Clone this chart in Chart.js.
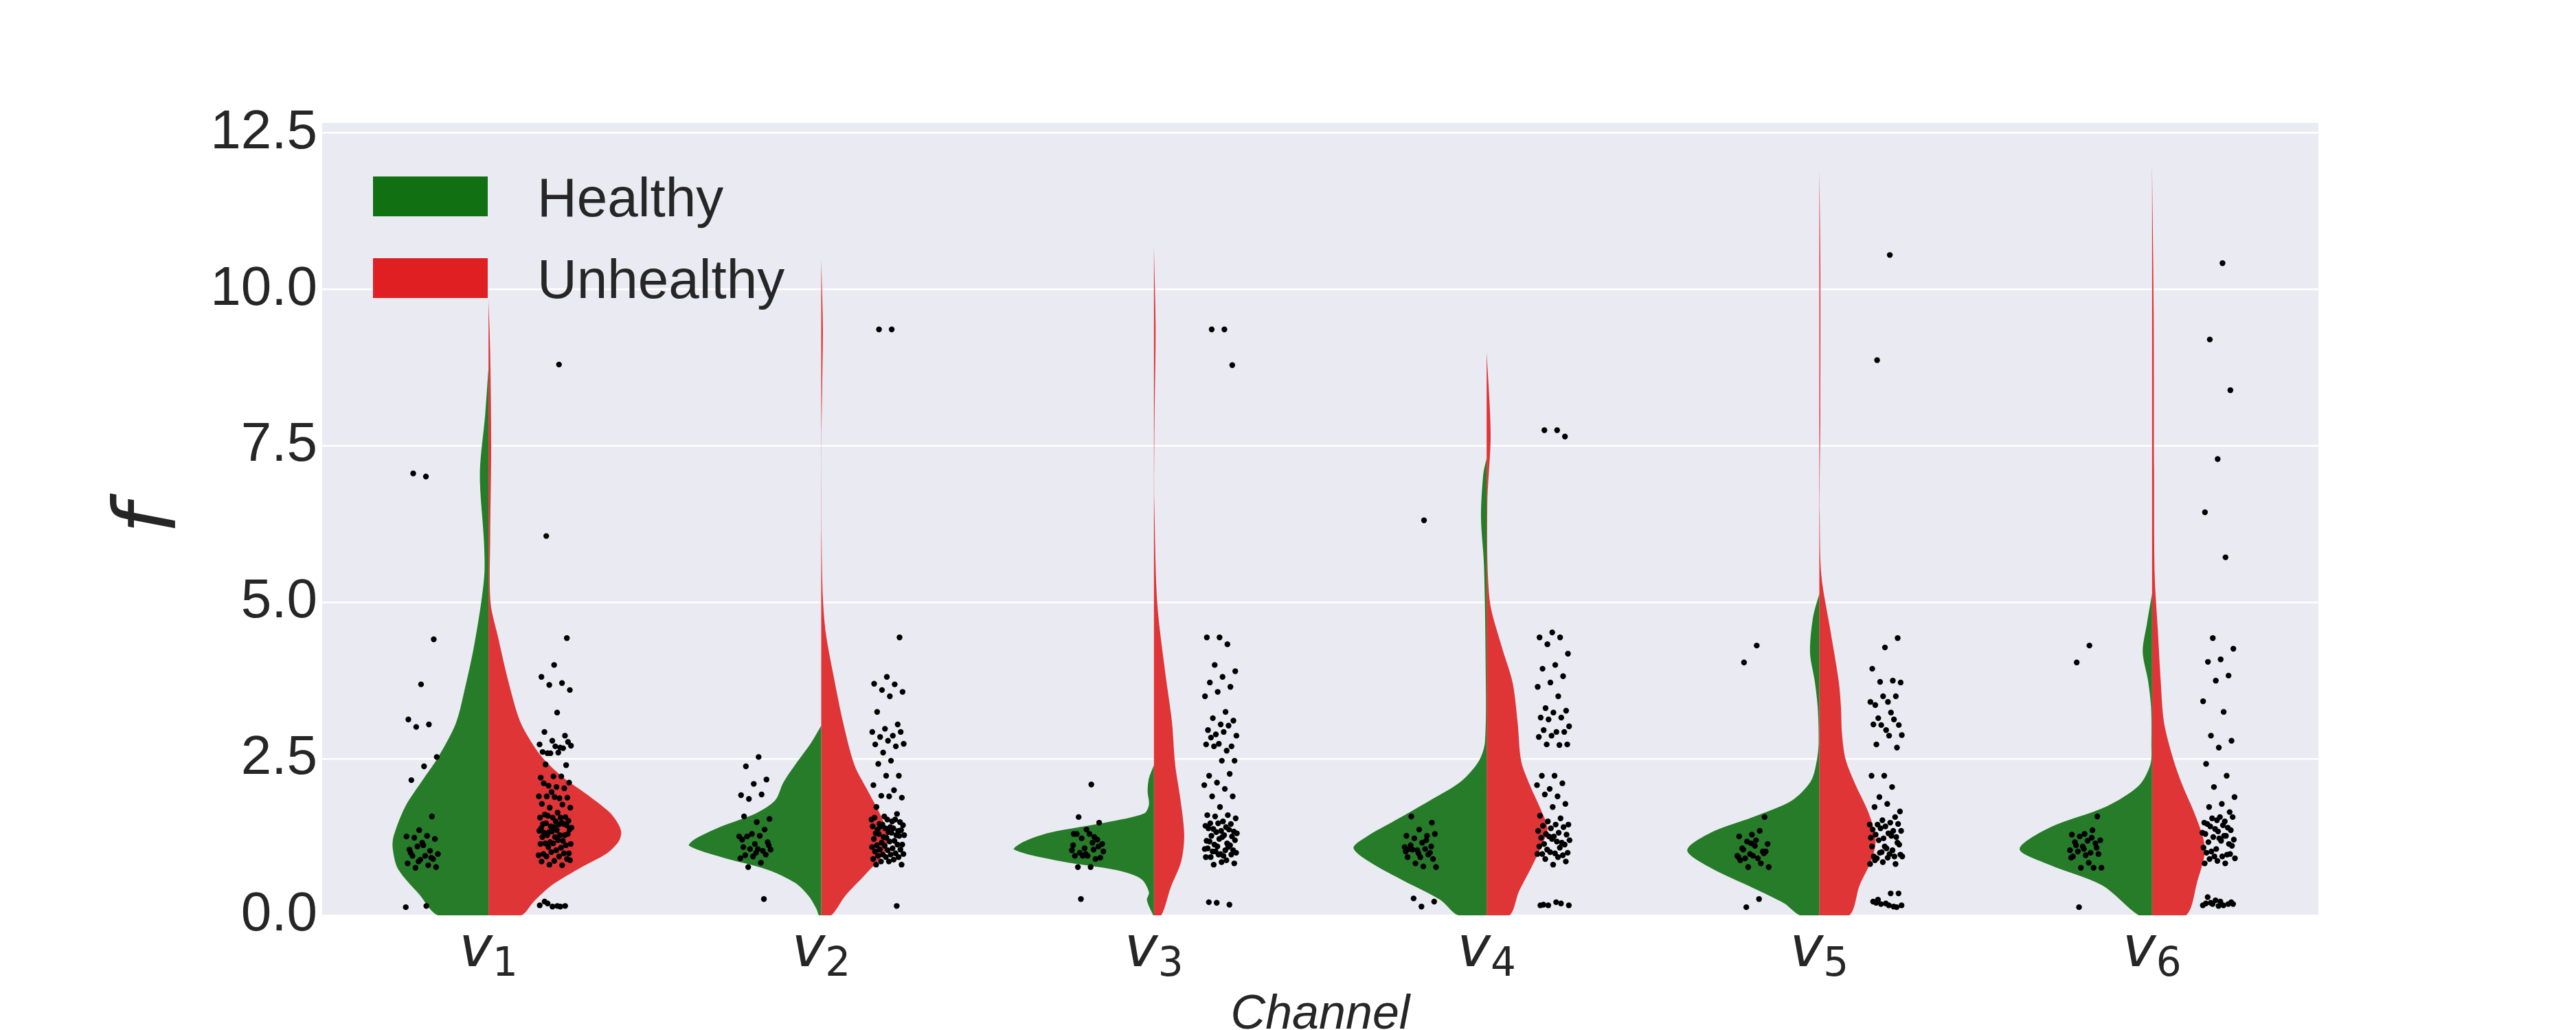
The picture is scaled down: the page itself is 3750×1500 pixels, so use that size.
<!DOCTYPE html>
<html>
<head>
<meta charset="utf-8">
<title>Healthy vs Unhealthy by channel</title>
<script src="https://cdn.jsdelivr.net/npm/chart.js@4.4.1/dist/chart.umd.min.js"></script>
<style>
  html, body { margin: 0; padding: 0; background: #ffffff; }
  #chart { display: block; }
</style>
</head>
<body>
<canvas id="chart" width="3750" height="1500"></canvas>
<script>
// categories and groups (mathtext-style names, "_" marks the subscript)
const channels = ["v_1", "v_2", "v_3", "v_4", "v_5", "v_6"];
const groups = ["Healthy", "Unhealthy"];
const yTicks = [0, 2.5, 5, 7.5, 10, 12.5];

// strip points (f values), one list per channel
const healthyValues = [
  [7.01, 7.06, 4.41, 3.69, 3.13, 3.05, 3.01, 2.53, 2.38, 2.16, 1.58, 1.36, 1.26, 1.27, 1.24, 1.22, 1.16, 1.05, 1.03, 1.1, 0.98, 0.95, 0.95, 0.9, 0.89, 0.83, 0.8, 0.76, 0.77, 1.12, 1.0, 0.92, 0.86, 0.13, 0.15],
  [2.53, 2.38, 2.17, 2.1, 1.92, 1.93, 1.86, 1.54, 1.49, 1.58, 1.37, 1.3, 1.26, 1.27, 1.26, 1.17, 1.14, 1.21, 1.03, 1.06, 1.05, 1.06, 0.96, 0.97, 0.94, 0.91, 0.84, 0.77, 1.12, 1.0, 1.09, 0.26],
  [2.09, 1.57, 1.48, 1.37, 1.3, 1.25, 1.23, 1.14, 1.3, 1.3, 1.21, 1.07, 1.04, 1.16, 1.0, 0.92, 0.95, 0.95, 0.9, 0.95, 1.02, 0.77, 0.77, 1.1, 0.98, 1.12, 1.05, 0.26],
  [6.31, 1.58, 1.48, 1.37, 1.27, 1.27, 1.23, 1.3, 1.16, 1.06, 1.0, 1.04, 1.09, 1.06, 1.05, 0.9, 0.93, 0.93, 0.97, 0.83, 0.77, 0.78, 1.12, 1.1, 0.99, 1.02, 1.2, 0.27, 0.22, 0.14],
  [4.31, 4.04, 1.57, 1.29, 1.26, 1.35, 1.18, 1.14, 1.11, 1.07, 1.02, 0.98, 0.95, 0.91, 0.91, 1.02, 0.95, 0.88, 0.83, 0.77, 0.77, 1.2, 1.05, 0.99, 1.15, 0.93, 0.26, 0.13],
  [4.31, 4.04, 1.58, 1.3, 1.29, 1.36, 1.26, 1.2, 1.19, 1.17, 1.15, 1.1, 1.04, 1.0, 1.02, 0.98, 0.96, 0.94, 0.76, 0.76, 0.76, 0.84, 1.12, 1.08, 1.06, 0.92, 1.24, 0.13]
];
const unhealthyValues = [
  [8.8, 6.06, 4.43, 4.0, 3.81, 3.71, 3.68, 3.6, 3.24, 2.93, 2.87, 2.79, 2.73, 2.68, 2.59, 2.77, 2.7, 2.61, 2.67, 2.59, 2.71, 2.6, 2.41, 2.4, 2.22, 2.2, 2.22, 2.07, 2.12, 2.05, 2.11, 2.03, 1.97, 1.9, 1.87, 1.9, 1.88, 1.89, 1.78, 1.77, 1.72, 1.72, 1.64, 1.61, 1.57, 1.56, 1.56, 1.56, 1.59, 1.51, 1.5, 1.46, 1.46, 1.42, 1.4, 1.45, 1.47, 1.44, 1.41, 1.39, 1.48, 1.33, 1.37, 1.36, 1.32, 1.28, 1.34, 1.35, 1.28, 1.28, 1.3, 1.25, 1.25, 1.19, 1.17, 1.14, 1.2, 1.15, 1.12, 1.15, 1.14, 1.08, 1.09, 0.99, 1.04, 0.98, 0.99, 1.01, 0.96, 0.94, 0.94, 0.9, 0.87, 0.86, 0.8, 0.81, 0.88, 0.15, 0.22, 0.15, 0.14, 0.16, 0.14, 0.19],
  [9.36, 9.36, 4.44, 3.81, 3.7, 3.69, 3.6, 3.57, 3.5, 3.25, 3.05, 2.98, 2.93, 2.87, 2.85, 2.93, 2.79, 2.73, 2.7, 2.6, 2.74, 2.47, 2.42, 2.23, 2.23, 2.08, 2.0, 1.91, 1.88, 1.9, 1.73, 1.62, 1.58, 1.53, 1.5, 1.46, 1.49, 1.53, 1.56, 1.53, 1.45, 1.44, 1.41, 1.37, 1.35, 1.39, 1.42, 1.39, 1.42, 1.36, 1.33, 1.31, 1.28, 1.25, 1.28, 1.32, 1.3, 1.27, 1.24, 1.22, 1.19, 1.16, 1.13, 1.18, 1.12, 1.13, 1.11, 1.09, 1.07, 1.05, 1.05, 1.04, 1.02, 0.99, 0.97, 0.98, 0.97, 0.95, 0.93, 0.93, 0.9, 0.89, 0.86, 0.81, 0.86, 0.81, 0.15],
  [9.36, 9.36, 8.79, 4.44, 4.44, 4.33, 4.0, 3.9, 3.81, 3.72, 3.65, 3.57, 3.5, 3.25, 3.15, 3.11, 3.05, 2.96, 3.03, 2.89, 2.87, 2.93, 2.84, 2.7, 2.74, 2.73, 2.63, 2.7, 2.47, 2.47, 2.23, 2.26, 2.12, 2.08, 2.02, 1.9, 1.9, 1.73, 1.6, 1.6, 1.58, 1.55, 1.5, 1.47, 1.46, 1.47, 1.43, 1.41, 1.38, 1.34, 1.35, 1.39, 1.37, 1.33, 1.31, 1.28, 1.27, 1.26, 1.22, 1.19, 1.15, 1.13, 1.2, 1.25, 1.18, 1.12, 1.1, 1.06, 1.04, 1.02, 1.04, 0.98, 1.07, 1.09, 1.02, 1.0, 0.95, 0.93, 0.97, 0.97, 0.93, 0.88, 0.81, 0.83, 0.85, 0.21, 0.17, 0.2],
  [7.75, 7.75, 7.65, 4.52, 4.44, 4.44, 4.33, 4.18, 4.0, 3.94, 3.82, 3.72, 3.65, 3.5, 3.31, 3.27, 3.24, 3.16, 3.16, 3.13, 3.02, 2.93, 2.96, 2.93, 2.87, 2.85, 2.72, 2.73, 2.73, 2.23, 2.23, 2.11, 2.02, 2.08, 1.9, 1.93, 1.78, 1.73, 1.59, 1.55, 1.5, 1.45, 1.45, 1.43, 1.41, 1.39, 1.35, 1.32, 1.3, 1.29, 1.26, 1.24, 1.16, 1.26, 1.2, 1.18, 1.14, 1.13, 1.22, 1.1, 1.08, 1.05, 1.0, 0.99, 0.98, 0.96, 1.01, 0.98, 0.93, 0.9, 0.86, 0.81, 0.16, 0.19, 0.16, 0.16, 0.21, 0.17],
  [10.55, 8.87, 4.43, 4.28, 3.94, 3.75, 3.73, 3.72, 3.41, 3.36, 3.5, 3.5, 3.41, 3.24, 3.15, 3.04, 2.96, 3.05, 3.13, 3.04, 2.88, 2.87, 2.73, 2.68, 2.23, 2.23, 2.05, 1.89, 1.66, 1.78, 1.73, 1.57, 1.52, 1.45, 1.48, 1.45, 1.46, 1.42, 1.37, 1.35, 1.39, 1.35, 1.31, 1.29, 1.25, 1.23, 1.24, 1.27, 1.2, 1.13, 1.07, 0.94, 0.94, 1.01, 0.94, 0.98, 0.91, 1.16, 1.1, 1.1, 1.04, 1.0, 0.97, 0.92, 0.88, 0.82, 0.85, 0.82, 0.35, 0.25, 0.35, 0.19, 0.22, 0.14, 0.18, 0.16, 0.16, 0.2, 0.13],
  [10.42, 9.2, 8.39, 7.29, 6.44, 5.72, 4.43, 4.26, 4.09, 4.05, 3.83, 3.75, 3.42, 3.25, 2.87, 2.79, 2.68, 2.42, 2.23, 2.05, 1.89, 1.78, 1.73, 1.65, 1.52, 1.48, 1.5, 1.55, 1.57, 1.57, 1.46, 1.4, 1.38, 1.32, 1.44, 1.42, 1.36, 1.34, 1.3, 1.27, 1.25, 1.21, 1.19, 1.17, 1.14, 1.06, 1.08, 1.27, 1.02, 1.11, 1.23, 1.0, 0.97, 0.94, 0.91, 0.94, 0.9, 0.98, 0.87, 0.83, 0.83, 0.18, 0.18, 0.22, 0.29, 0.18, 0.24, 0.16, 0.16, 0.2, 0.21, 0.15, 0.19]
];

// violin outlines: [f value, density half-width], top to bottom
const healthyDensity = [
  [[8.75, 0], [8.0, 0.01], [7.05, 0.026], [6.0, 0.014], [5.5, 0.012], [5.0, 0.022], [4.26, 0.045], [3.6, 0.072], [3.07, 0.098], [2.53, 0.151], [2.2, 0.193], [1.74, 0.25], [1.27, 0.285], [1.07, 0.288], [0.74, 0.272], [0.34, 0.209], [0, 0.151]],
  [[3.03, 0], [2.75, 0.031], [2.4, 0.079], [2.12, 0.114], [1.84, 0.138], [1.63, 0.196], [1.42, 0.3], [1.21, 0.382], [1.11, 0.397], [0.93, 0.3], [0.73, 0.162], [0.52, 0.079], [0.31, 0.038], [0.1, 0.014], [0, 0.007]],
  [[2.4, 0], [2.19, 0.015], [1.98, 0.019], [1.77, 0.015], [1.63, 0.029], [1.49, 0.139], [1.32, 0.314], [1.18, 0.39], [1.05, 0.42], [0.86, 0.277], [0.72, 0.111], [0.58, 0.038], [0.37, 0.015], [0.24, 0.021], [0, 0.002]],
  [[7.3, 0], [7.05, 0.01], [6.36, 0.017], [5.6, 0.008], [4.03, 0.003], [2.77, 0.005], [2.46, 0.024], [2.14, 0.077], [1.83, 0.172], [1.51, 0.277], [1.26, 0.36], [1.08, 0.4], [0.88, 0.36], [0.57, 0.256], [0.25, 0.14], [0, 0.085]],
  [[5.14, 0], [4.76, 0.019], [4.2, 0.028], [3.75, 0.014], [3.33, 0.005], [2.77, 0.002], [2.46, 0.008], [2.14, 0.026], [1.83, 0.084], [1.57, 0.2], [1.32, 0.327], [1.04, 0.397], [0.76, 0.327], [0.44, 0.2], [0.19, 0.105], [0, 0.058]],
  [[5.14, 0], [4.67, 0.015], [4.21, 0.028], [3.75, 0.012], [3.33, 0.003], [2.74, 0.002], [2.41, 0.005], [2.07, 0.04], [1.74, 0.137], [1.4, 0.309], [1.06, 0.398], [0.81, 0.309], [0.48, 0.15], [0, 0.04]]
];
const unhealthyDensity = [
  [[9.85, 0], [9.0, 0.005], [7.5, 0.008], [6.0, 0.005], [5.0, 0.006], [4.46, 0.028], [3.73, 0.06], [3.11, 0.094], [2.74, 0.132], [2.49, 0.167], [2.2, 0.225], [1.94, 0.294], [1.65, 0.363], [1.46, 0.39], [1.32, 0.399], [1.17, 0.39], [0.99, 0.356], [0.77, 0.28], [0.48, 0.19], [0.22, 0.136], [0, 0.098]],
  [[10.47, 0], [9.39, 0.005], [8.5, 0.003], [7.6, 0.0005], [6.8, 0.0005], [6.04, 0.001], [5.06, 0.005], [4.5, 0.014], [3.8, 0.038], [3.1, 0.065], [2.4, 0.1], [1.98, 0.141], [1.56, 0.182], [1.25, 0.2], [1.0, 0.19], [0.66, 0.134], [0.31, 0.072], [0, 0.03]],
  [[10.68, 0], [9.39, 0.005], [8.0, 0.002], [6.9, 0.0005], [6.6, 0.001], [4.99, 0.01], [3.8, 0.036], [3.1, 0.054], [2.4, 0.064], [1.84, 0.08], [1.28, 0.091], [0.86, 0.082], [0.44, 0.05], [0, 0.022]],
  [[9.0, 0], [7.68, 0.012], [6.55, 0.002], [5.04, 0.009], [4.28, 0.046], [3.72, 0.078], [3.09, 0.093], [2.46, 0.104], [2.08, 0.13], [1.7, 0.162], [1.39, 0.183], [1.13, 0.167], [0.76, 0.134], [0.38, 0.097], [0, 0.069]],
  [[11.92, 0], [10.5, 0.003], [8.0, 0.003], [6.86, 0.001], [6.44, 0.001], [5.43, 0.006], [4.59, 0.032], [3.75, 0.058], [3.33, 0.065], [2.91, 0.068], [2.49, 0.079], [2.07, 0.11], [1.65, 0.147], [1.23, 0.169], [0.9, 0.158], [0.48, 0.121], [0, 0.09]],
  [[11.98, 0], [9.63, 0.005], [7.11, 0.006], [5.43, 0.008], [4.59, 0.017], [3.75, 0.026], [3.08, 0.036], [2.49, 0.064], [2.07, 0.092], [1.65, 0.126], [1.23, 0.154], [0.98, 0.158], [0.56, 0.137], [0, 0.102]]
];

const violinColors = ["#267c28", "#e03537"];
const legendColors = ["#117012", "#e01f22"];
const textColor = "#262626";
const DODGE = 0.2;
const JITTER = 0.05;

// deterministic spread for the strip points (golden-ratio sequence)
function jitter(k) {
  return (((k + 1) * 0.6180339887) % 1 - 0.5) * 2 * JITTER;
}

function halfViolin(i, dens, side, color) {
  const pts = dens.map(([y, w]) => ({ x: i + side * w, y: y }));
  pts.push({ x: i, y: dens[dens.length - 1][0] });
  return {
    data: pts,
    showLine: true,
    fill: "shape",
    backgroundColor: color,
    borderColor: "rgba(0,0,0,0)",
    borderWidth: 0,
    pointRadius: 0,
    tension: 0.3,
    order: 2
  };
}

function strip(i, values, side) {
  return {
    data: values.map((y, k) => ({ x: i + side * DODGE + jitter(k), y: y })),
    pointRadius: 4.2,
    backgroundColor: "#000000",
    borderWidth: 0,
    order: 1
  };
}

const datasets = [];
channels.forEach((c, i) => {
  datasets.push(halfViolin(i, healthyDensity[i], -1, violinColors[0]));
  datasets.push(halfViolin(i, unhealthyDensity[i], 1, violinColors[1]));
  datasets.push(strip(i, healthyValues[i], -1));
  datasets.push(strip(i, unhealthyValues[i], 1));
});

const plotBackground = {
  id: "plotBackground",
  beforeDraw(chart) {
    const { ctx, chartArea: a } = chart;
    ctx.save();
    ctx.fillStyle = "#eaeaf2";
    ctx.fillRect(a.left, a.top, a.right - a.left, a.bottom - a.top);
    ctx.restore();
  }
};

// tick labels like v_1: italic letter, smaller upright subscript
const subscriptTicks = {
  id: "subscriptTicks",
  afterDraw(chart) {
    const { ctx } = chart;
    const xs = chart.scales.x;
    ctx.save();
    ctx.fillStyle = textColor;
    ctx.textAlign = "left";
    ctx.textBaseline = "alphabetic";
    channels.forEach((name, i) => {
      const [base, sub] = name.split("_");
      ctx.font = 'italic 82px "DejaVu Sans"';
      const wb = ctx.measureText(base).width;
      ctx.font = '58px "DejaVu Sans"';
      const ws = ctx.measureText(sub).width;
      const x0 = xs.getPixelForValue(i) - (wb + ws) / 2;
      ctx.font = 'italic 82px "DejaVu Sans"';
      ctx.fillText(base, x0, xs.top + 74);
      ctx.font = '58px "DejaVu Sans"';
      ctx.fillText(sub, x0 + wb, xs.top + 88);
    });
    ctx.restore();
  }
};

const boxLegend = {
  id: "boxLegend",
  afterDraw(chart) {
    const { ctx, chartArea: a } = chart;
    ctx.save();
    groups.forEach((name, k) => {
      const y = a.top + 78 + k * 119;
      ctx.fillStyle = legendColors[k];
      ctx.fillRect(a.left + 74, y, 167, 58);
      ctx.fillStyle = textColor;
      ctx.font = '80px "Liberation Sans"';
      ctx.textBaseline = "alphabetic";
      ctx.textAlign = "left";
      ctx.fillText(name, a.left + 313, y + 58);
    });
    ctx.restore();
  }
};

new Chart(document.getElementById("chart"), {
  type: "scatter",
  data: { datasets: datasets },
  plugins: [plotBackground, subscriptTicks, boxLegend],
  options: {
    responsive: false,
    animation: false,
    events: [],
    layout: { padding: { top: 179, right: 375, bottom: 0, left: 0 } },
    plugins: {
      legend: { display: false },
      tooltip: { enabled: false }
    },
    scales: {
      x: {
        type: "linear",
        min: -0.5,
        max: 5.5,
        afterFit: (s) => { s.height = 167; },
        afterBuildTicks: (s) => { s.ticks = channels.map((c, i) => ({ value: i })); },
        grid: { display: false },
        border: { display: false },
        ticks: { display: false },
        title: {
          display: true,
          text: "Channel",
          color: textColor,
          padding: { top: 0, bottom: -10 },
          font: { family: "Liberation Sans", style: "italic", size: 70, lineHeight: 0.9 }
        }
      },
      y: {
        type: "linear",
        min: 0,
        max: 12.66,
        afterFit: (s) => { s.width = 469; },
        afterBuildTicks: (s) => { s.ticks = yTicks.map((v) => ({ value: v })); },
        grid: { color: "#ffffff", lineWidth: 2.5, drawTicks: false },
        border: { display: false },
        ticks: {
          autoSkip: false,
          padding: 7,
          color: textColor,
          font: { family: "Liberation Sans", size: 80 },
          callback: (v) => Number(v).toFixed(1)
        },
        title: {
          display: true,
          text: "f",
          color: textColor,
          padding: { top: 148, bottom: 0 },
          font: { family: "DejaVu Sans", style: "italic", size: 124 }
        }
      }
    }
  }
});
</script>
</body>
</html>
